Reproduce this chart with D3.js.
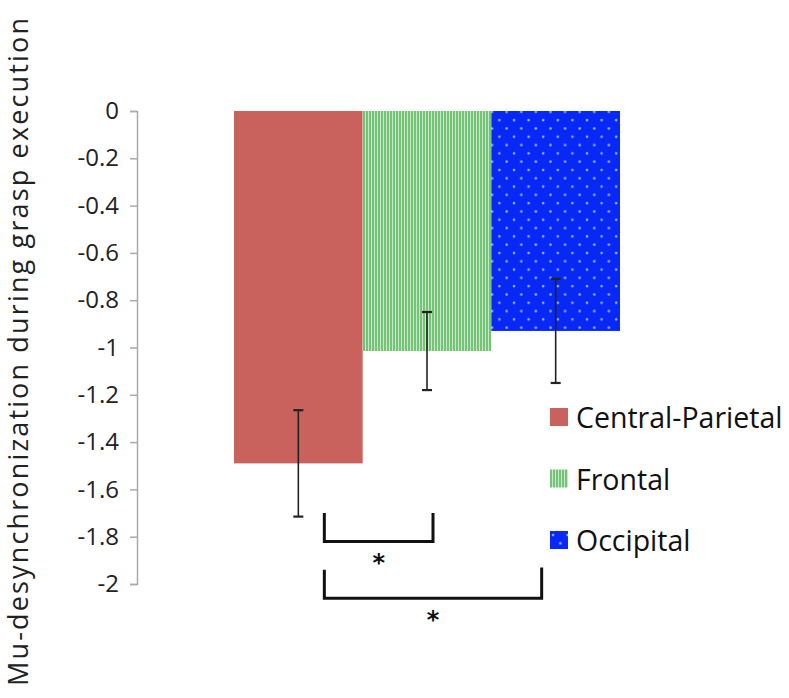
<!DOCTYPE html>
<html><head><meta charset="utf-8">
<script src="https://cdn.jsdelivr.net/npm/d3@7"></script>
<style>body{margin:0;background:#fff}svg{display:block}</style>
</head><body>
<script>
const categories = ["Central-Parietal", "Frontal", "Occipital"];
const values = [-1.49, -1.015, -0.93];
const errors = [0.225, 0.165, 0.22];
const yTicks = [0, -0.2, -0.4, -0.6, -0.8, -1, -1.2, -1.4, -1.6, -1.8, -2];
const yLabel = "Mu-desynchronization during grasp execution";
// significance brackets: [from category, to category, left bracket top value, right bracket top value, bottom value]
const sigPairs = [
  {a: 0, b: 1, topA: -1.70, topB: -1.70, bottom: -1.82, label: "*"},
  {a: 0, b: 2, topA: -1.94, topB: -1.93, bottom: -2.06, label: "*"}
];

const W = 789, H = 698;
const FONT = "'Open Sans', sans-serif";
const svg = d3.select("body").append("svg").attr("width", W).attr("height", H);
const defs = svg.append("defs");

const g1 = defs.append("pattern").attr("id","pGreen").attr("patternUnits","userSpaceOnUse").attr("width",3).attr("height",10);
g1.append("rect").attr("width",3).attr("height",10).attr("fill","#77c27a");
g1.append("rect").attr("x",2).attr("width",1).attr("height",10).attr("fill","#c4ebc2");
const b1 = defs.append("pattern").attr("id","pBlue").attr("patternUnits","userSpaceOnUse").attr("width",14.6).attr("height",16.6);
b1.append("rect").attr("width",14.6).attr("height",16.6).attr("fill","#0828f6");
b1.append("circle").attr("cx",3).attr("cy",4).attr("r",1.3).attr("fill","#9eb0ff");
b1.append("circle").attr("cx",10.3).attr("cy",12.3).attr("r",1.3).attr("fill","#9eb0ff");
const fills = ["#c9625c", "url(#pGreen)", "url(#pBlue)"];

const y = d3.scaleLinear().domain([0, -2]).range([111, 584]);
const x = d3.scaleBand().domain(categories).range([234, 620]).paddingInner(0).paddingOuter(0);

// axis
const axis = svg.append("g").attr("transform","translate(137,0)")
  .call(d3.axisLeft(y).tickValues(yTicks).tickSize(7).tickPadding(11).tickFormat(d => String(d)));
axis.select(".domain").attr("stroke","#aaa").attr("stroke-width",1.5);
axis.selectAll(".tick line").attr("stroke","#aaa").attr("stroke-width",1.5);
axis.selectAll(".tick text").attr("font-family",FONT).attr("font-size",24).attr("fill","#222");

svg.append("text").attr("transform","translate(28,352) rotate(-90)").attr("text-anchor","middle")
  .attr("font-family",FONT).attr("font-size",27).attr("fill","#222")
  .attr("textLength",668).attr("lengthAdjust","spacing").text(yLabel);

// bars
svg.append("g").selectAll("rect").data(categories).join("rect")
  .attr("x", d => x(d)).attr("width", x.bandwidth())
  .attr("y", y(0)).attr("height", (d,i) => y(values[i]) - y(0))
  .attr("fill", (d,i) => fills[i]);

// error bars
const eb = svg.append("g").attr("stroke","#222").attr("stroke-width",1.6);
categories.forEach((c,i) => {
  const cx = x(c) + x.bandwidth()/2;
  eb.append("line").attr("x1",cx).attr("x2",cx).attr("y1",y(values[i]+errors[i])).attr("y2",y(values[i]-errors[i]));
  [values[i]+errors[i], values[i]-errors[i]].forEach(v =>
    eb.append("line").attr("x1",cx-5).attr("x2",cx+5).attr("y1",y(v)).attr("y2",y(v)).attr("stroke-width",2.2));
});

// significance brackets
const br = svg.append("g");
sigPairs.forEach(p => {
  const xa = x(categories[p.a]) + x.bandwidth()/2 + 26, xb = x(categories[p.b]) + x.bandwidth()/2 - (p.b===1?-6:14);
  br.append("path").attr("d", `M${xa},${y(p.topA)}V${y(p.bottom)}H${xb}V${y(p.topB)}`)
    .attr("fill","none").attr("stroke","#111").attr("stroke-width",3);
  br.append("text").attr("x",(xa+xb)/2).attr("y",y(p.bottom)+30).attr("text-anchor","middle")
    .attr("font-family","'DejaVu Sans', sans-serif").attr("font-weight","bold").attr("font-size",24).attr("fill","#111").text(p.label);
});

// legend
const lg = svg.append("g").attr("transform","translate(550,408)");
categories.forEach((c,i) => {
  const row = lg.append("g").attr("transform",`translate(0,${i*61.5})`);
  row.append("rect").attr("width",18).attr("height",18).attr("fill",fills[i]);
  row.append("text").attr("x",26).attr("y",20).attr("font-family",FONT)
    .attr("font-size",28.5).attr("fill","#111").text(c);
});
</script>
</body></html>
